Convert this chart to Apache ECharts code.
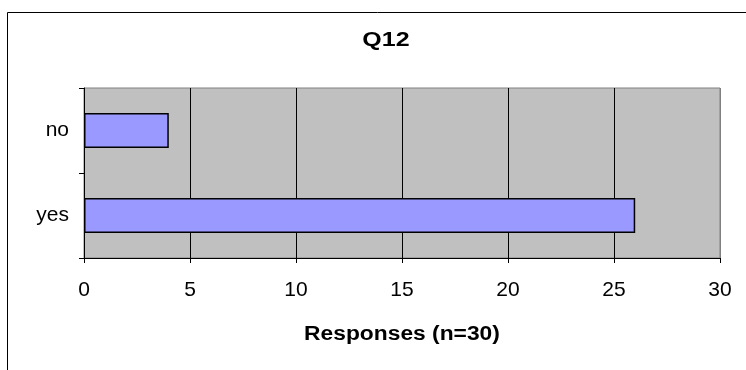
<!DOCTYPE html>
<html>
<head>
<meta charset="utf-8">
<script src="https://cdn.jsdelivr.net/npm/echarts@6/dist/echarts.min.js"></script>
<style>
  html, body { margin: 0; padding: 0; background: #fff; }
  #chart { width: 746px; height: 370px; }
</style>
</head>
<body>
<div id="chart"></div>
<script>
// Survey answers for question Q12
const categories = ['yes', 'no'];
const responses = [26, 4];
const xTicks = [0, 5, 10, 15, 20, 25, 30];
const titleText = 'Q12';
const axisTitle = 'Responses (n=30)';

const chart = echarts.init(document.getElementById('chart'), null, { renderer: 'canvas' });
const FONT = "'Liberation Sans', Arial, sans-serif";

chart.setOption({
  animation: false,
  backgroundColor: '#ffffff',
  graphic: [
    {
      // chart frame (open to the right and bottom edges)
      type: 'rect',
      shape: { x: 7.5, y: 12.5, width: 800, height: 420 },
      style: { fill: 'none', stroke: '#000', lineWidth: 1 },
      z: -1
    },
    {
      // chart title, slightly widened
      type: 'text',
      x: 386, y: 40, scaleX: 1.25,
      style: {
        text: titleText, x: 0, y: 0, align: 'center', verticalAlign: 'middle',
        font: "bold 20px " + FONT, fill: '#000'
      }
    },
    {
      // value-axis title, slightly widened
      type: 'text',
      x: 402, y: 334, scaleX: 1.14,
      style: {
        text: axisTitle, x: 0, y: 0, align: 'center', verticalAlign: 'middle',
        font: "bold 20px " + FONT, fill: '#000'
      }
    }
  ],
  grid: {
    left: 84, top: 88, right: 26, bottom: 112,
    show: true,
    backgroundColor: '#c0c0c0',
    borderColor: '#808080',
    borderWidth: 1
  },
  xAxis: {
    type: 'value',
    min: xTicks[0],
    max: xTicks[xTicks.length - 1],
    interval: 5,
    axisLine: { show: true, lineStyle: { color: '#000', width: 1 } },
    axisTick: { show: true, length: 5, inside: false, lineStyle: { color: '#000' } },
    axisLabel: { fontFamily: FONT, fontSize: 21, color: '#000', margin: 22 },
    splitLine: {
      show: true,
      lineStyle: { color: ['#000', '#000', '#000', '#000', '#000', '#000', '#808080'], width: 1 }
    }
  },
  yAxis: {
    type: 'category',
    data: categories,
    axisLine: { show: true, lineStyle: { color: '#000', width: 1 } },
    axisTick: { show: true, length: 5, alignWithLabel: false, lineStyle: { color: '#000' } },
    axisLabel: { fontFamily: FONT, fontSize: 21, color: '#000', margin: 15 },
    splitLine: { show: false }
  },
  series: [{
    type: 'bar',
    data: responses,
    barWidth: 35,
    itemStyle: { color: '#9999ff', borderColor: '#000', borderWidth: 1.5 }
  }]
});
</script>
</body>
</html>
